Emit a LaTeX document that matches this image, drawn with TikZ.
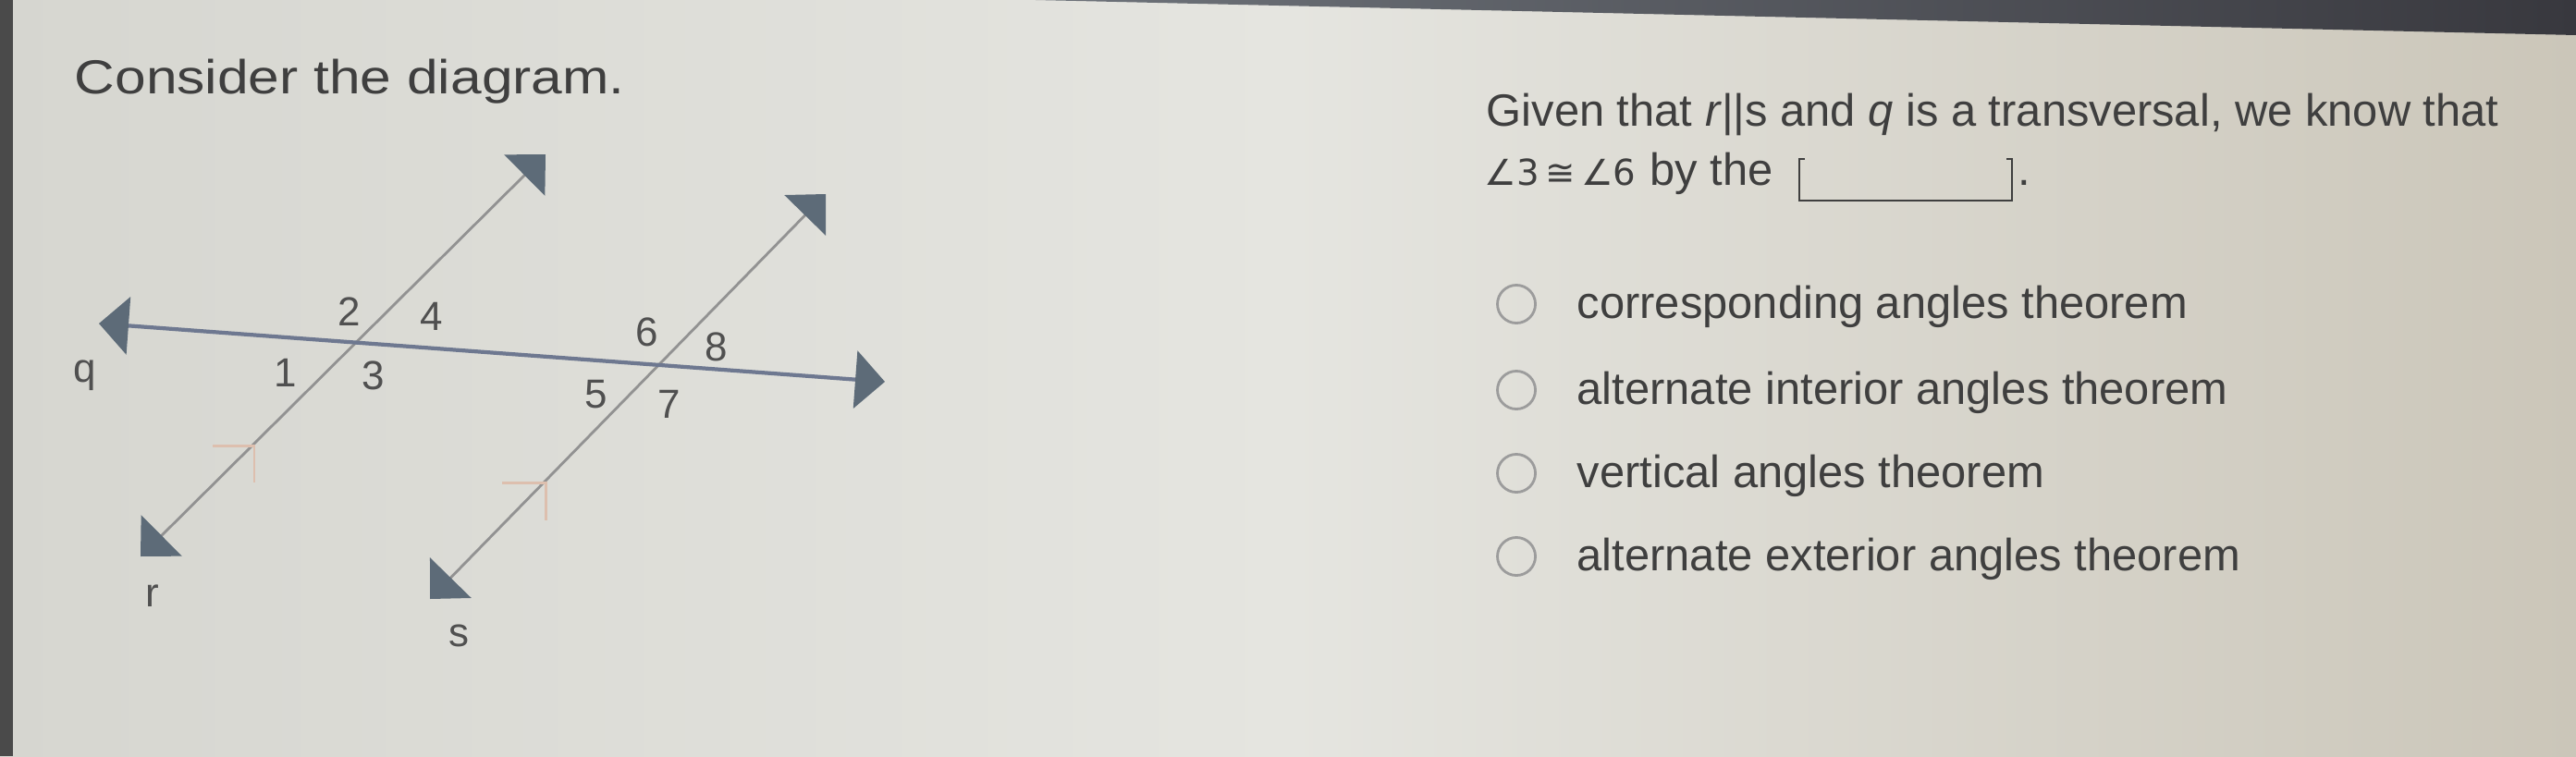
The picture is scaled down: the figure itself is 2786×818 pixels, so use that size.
\documentclass[tikz,border=0pt]{standalone}
\usepackage{fontspec}
\setmainfont{Liberation Sans}
\newfontfamily\dejavu{DejaVu Sans}
\usetikzlibrary{arrows.meta}
\definecolor{bgl}{HTML}{D6D6D0}
\definecolor{bgm}{HTML}{E5E5E0}
\definecolor{bgr}{HTML}{CBC6B9}
\definecolor{txtc}{HTML}{3F3F3F}
\definecolor{lblc}{HTML}{505050}
\definecolor{qc}{HTML}{6E7890}
\definecolor{rsc}{HTML}{929292}
\definecolor{arrc}{HTML}{5D6B78}
\definecolor{tickc}{HTML}{DDBFAE}
\definecolor{circc}{HTML}{9C9C9C}
\definecolor{bandl}{HTML}{6E737A}
\definecolor{bandr}{HTML}{38383E}
\definecolor{edgec}{HTML}{4A4A4A}
\begin{document}
\begin{tikzpicture}[x=0.01cm,y=-0.01cm,
  >={Triangle[length=0.32cm,width=0.62cm,color=arrc]},
  txt/.style={inner sep=0pt, anchor=base west, text=txtc, font=\fontsize{13.9pt}{16pt}\selectfont},
  lbl/.style={inner sep=0pt, text=lblc, font=\fontsize{12.5pt}{14pt}\selectfont},
  qline/.style={draw=qc, line width=1.2pt, <->},
  rsline/.style={draw=rsc, line width=0.8pt, <->},
  parmark/.style={draw=tickc, line width=0.85pt},
  radio/.style={circle, draw=circc, line width=0.8pt, minimum size=0.41cm, inner sep=0pt},
  blank/.style={draw=txtc, line width=0.7pt}]
\useasboundingbox (0,0) rectangle (2786,818);
% background
\shade[left color=bgl, right color=bgr, middle color=bgm] (0,0) rectangle (2786,818);
\fill[edgec] (0,0) rectangle (14,818);
\shade[left color=bandl, right color=bandr] (1120,0) -- (2786,0) -- (2786,38) -- cycle;
% heading
\node[txt, font=\fontsize{14.7pt}{17pt}\selectfont] (head) at (80,101) {\scalebox{1.17}[1]{Consider the diagram.}};
% diagram lines
\coordinate (qL) at (107,350);
\coordinate (qR) at (957,413);
\coordinate (rB) at (152,602);
\coordinate (rT) at (590,167);
\coordinate (sB) at (465,648);
\coordinate (sT) at (893,210);
\draw[rsline] (rB) -- (rT);
\draw[rsline] (sB) -- (sT);
\draw[qline] (qL) -- (qR);
% parallel marks
\coordinate (mr) at (275,482);
\coordinate (ms) at (590,522);
\draw[parmark] ([xshift=-0.45cm]mr) -- (mr) -- ([yshift=-0.40cm]mr);
\draw[parmark] ([xshift=-0.47cm]ms) -- (ms) -- ([yshift=-0.41cm]ms);
% angle labels
\node[lbl] (a2) at (378,337) {2};
\node[lbl] (a4) at (467,342) {4};
\node[lbl] (a1) at (309,403) {1};
\node[lbl] (a3) at (404,406) {3};
\node[lbl] (a6) at (700,359) {6};
\node[lbl] (a8) at (775,375) {8};
\node[lbl] (a5) at (645,427) {5};
\node[lbl] (a7) at (724,437) {7};
\node[lbl] (lq) at (92,406) {q};
\node[lbl] (lr) at (165,645) {r};
\node[lbl] (ls) at (496,688) {s};
% question text
\node[txt] (g1) at (1607,136) {Given that \textit{r}||s and \textit{q} is a transversal, we know that};
\node[txt, font=\dejavu\fontsize{11pt}{13pt}\selectfont] (ang) at (1605,200) {∠3\,≅\,∠6};
\node[txt] (bythe) at (1784,200) {by the};
\draw[blank] (1952,172) -- (1946,172) -- (1946,217) -- (2176,217) -- (2176,172) -- (2170,172);
\node[txt] (dot) at (2182,200) {.};
% options
\node[radio] (c1) at (1640,329) {};
\node[radio] (c2) at (1640,422) {};
\node[radio] (c3) at (1640,512) {};
\node[radio] (c4) at (1640,602) {};
\node[txt] (o1) at (1705,344) {corresponding angles theorem};
\node[txt] (o2) at (1705,437) {alternate interior angles theorem};
\node[txt] (o3) at (1705,527) {vertical angles theorem};
\node[txt] (o4) at (1705,617) {alternate exterior angles theorem};
\end{tikzpicture}
\end{document}
